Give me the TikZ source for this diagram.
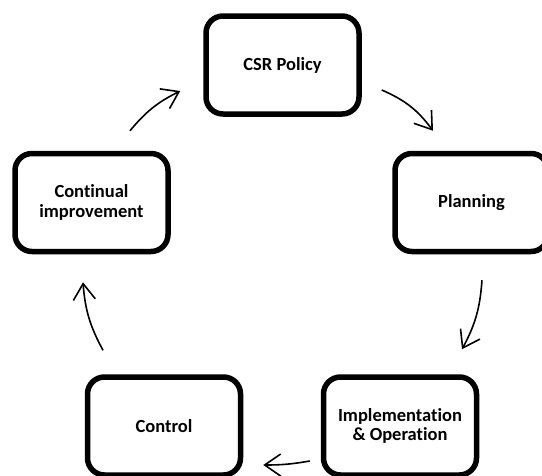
\documentclass[tikz,border=0pt]{standalone}
\usepackage{fontspec}
\setmainfont{Carlito}[Ligatures=NoCommon]
\usetikzlibrary{arrows.meta,positioning,calc}

\begin{document}
\begin{tikzpicture}[x=1pt, y=1pt,
    stagebox/.style={rectangle, draw=black, line width=5.5pt, rounded corners=17pt, minimum width=153pt, minimum height=98pt, align=center, font=\fontsize{18.5}{19.5}\selectfont\bfseries},
    cycarrow/.style={-{Straight Barb[length=16pt,width=22pt]}, line width=1.6pt}
]
    \useasboundingbox (0,0) rectangle (542,-475);

    \node[stagebox] (csr) at (282.5,-65) {CSR Policy};
    \node[stagebox] (plan) at (471.5,-202.5) {Planning};
    \node[stagebox] (impl) at (400,-426) {Implementation\\\& Operation};
    \node[stagebox] (ctrl) at (164,-426) {Control};
    \node[stagebox] (cont) at (91.5,-202.5) {Continual\\improvement};

    \draw[cycarrow] ($(csr.east)+(20,-25)$) to[bend left=15] ($(plan.north)+(-38.5,20)$);
    \draw[cycarrow] ($(plan.south)+(10.5,-26)$) to[bend left=12] ($(impl.north)+(62,25)$);
    \draw[cycarrow] ($(impl.west)+(-11,-35)$) to[bend left=5] ($(ctrl.east)+(20,-39)$);
    \draw[cycarrow] ($(ctrl.north)+(-61,24)$) to[bend left=12] ($(cont.south)+(-8.5,-28)$);
    \draw[cycarrow] ($(cont.north)+(38.5,20)$) to[bend left=12] ($(csr.west)+(-23,-26)$);
\end{tikzpicture}
\end{document}
